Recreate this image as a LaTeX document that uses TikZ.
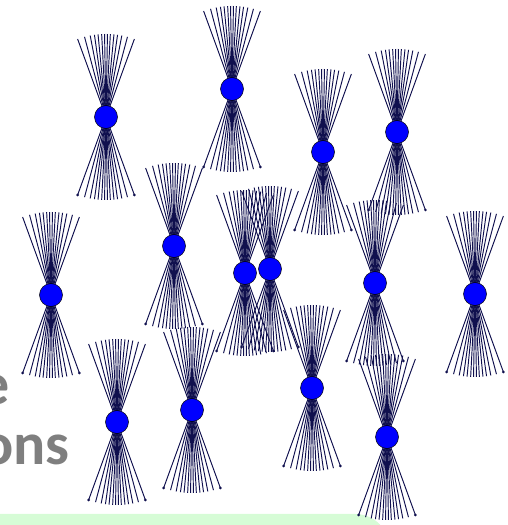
\documentclass[tikz,border=0pt]{standalone}
\usepackage{fontspec}
\newfontfamily\slidefont{Carlito}
\usepackage{tikz}
\usetikzlibrary{calc}
\definecolor{raycol}{HTML}{10104E}
\definecolor{barcol}{HTML}{D6FCD6}
\definecolor{txtcol}{HTML}{7F7F7F}
\tikzset{ray/.style={draw=raycol,line width=.95pt},ball/.style={circle,draw=black,line width=.5pt,fill=blue,minimum size=23pt,inner sep=0pt},tail/.style={fill=raycol}}

\begin{document}
\begin{tikzpicture}[x=1pt,y=1pt]
\useasboundingbox(0,0)rectangle(508,525);
\fill[barcol,rounded corners=35pt](-60,-40)rectangle(390,11);
\node[anchor=base east,text=txtcol,font=\slidefont\bfseries\fontsize{60}{66}\selectfont](ln1)at(13,120){e};
\node[anchor=base east,text=txtcol,font=\slidefont\bfseries\fontsize{60}{66}\selectfont](ln2)at(73,60){ons};
% bundles: rays through each centre, then the ball on top
\foreach \i/\x/\y in {1/106/408,2/232/436,3/323/373,4/397/393,5/174/279,6/245/252,7/270/256,8/375/242,9/51/230,10/475/231,11/117/103,12/192/115,13/312/137,14/387/88}{
\foreach \a in {-20,-15,-11,-8,-5.5,-3,-1,1,3,5.5,8,11,15,20}{\draw[ray](\x,\y)++(90+\a:83)--++(\a-90:166);}
\fill[tail](\x,\y)++(-110:83)circle(1.4);\fill[tail](\x,\y)++(-70:83)circle(1.4);
\node[ball](b\i)at(\x,\y){};
}
\end{tikzpicture}
\end{document}
